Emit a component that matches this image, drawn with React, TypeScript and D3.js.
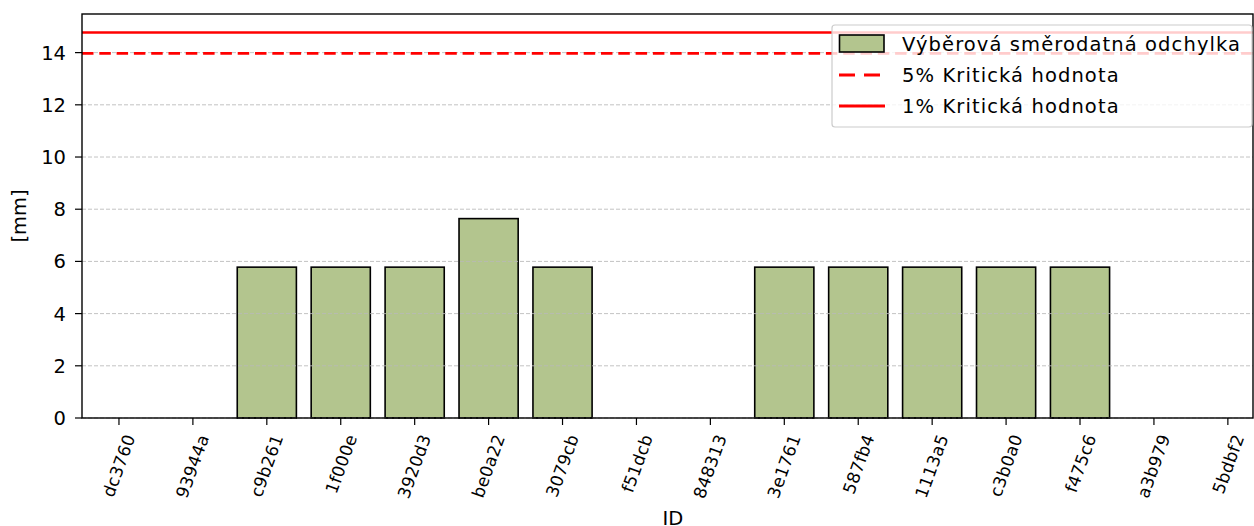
import React from "react";
import * as d3 from "d3";

const categories = ["dc3760","93944a","c9b261","1f000e","3920d3","be0a22","3079cb","f51dcb","848313","3e1761","587fb4","1113a5","c3b0a0","f475c6","a3b979","5bdbf2"];
const stdValues = [0,0,5.78,5.78,5.78,7.64,5.78,0,0,5.78,5.78,5.78,5.78,5.78,0,0];
const crit5 = 13.97;
const crit1 = 14.77;
const yTicks = [0,2,4,6,8,10,12,14];
const legendLabels = ["Výběrová směrodatná odchylka","5% Kritická hodnota","1% Kritická hodnota"];

const W = 1254, H = 526;
const L = 82, R = 1253, T = 14, B = 418;
const font = "DejaVu Sans, sans-serif";

export default function App() {
  const x = d3.scaleLinear().domain([-0.5, 15.34]).range([L, R]);
  const y = d3.scaleLinear().domain([0, 15.48]).range([B, T]);
  const bw = x(0.8) - x(0);
  return (
    <svg width={W} height={H} style={{ position: "absolute", left: 0, top: 0, background: "#fff" }} fontFamily={font}>
      <rect x={0} y={0} width={W} height={H} fill="#fff" />
      {stdValues.map((v, i) => (
        <rect key={i} x={x(i) - bw / 2} y={y(v)} width={bw} height={B - y(v)} fill="#b3c58e" stroke="#000" strokeWidth={1.6} />
      ))}
      {yTicks.map((t) => (
        <line key={"g" + t} x1={L} x2={R} y1={y(t)} y2={y(t)} stroke="#b8b8b8" strokeOpacity={0.85} strokeWidth={1} strokeDasharray="4,2" />
      ))}
      <line x1={L} x2={R} y1={y(crit5)} y2={y(crit5)} stroke="#ff0000" strokeWidth={2.6} strokeDasharray="11.5,5.8" />
      <line x1={L} x2={R} y1={y(crit1)} y2={y(crit1)} stroke="#ff0000" strokeWidth={2.6} />
      <rect x={L} y={T} width={R - L} height={B - T} fill="none" stroke="#000" strokeWidth={1.4} />
      {yTicks.map((t) => (
        <g key={"y" + t}>
          <line x1={L - 7} x2={L} y1={y(t)} y2={y(t)} stroke="#000" strokeWidth={1.2} />
          <text x={L - 16} y={y(t)} dy="0.36em" textAnchor="end" fontSize={19.5}>{t}</text>
        </g>
      ))}
      {categories.map((c, i) => (
        <g key={c}>
          <line x1={x(i)} x2={x(i)} y1={B} y2={B + 7} stroke="#000" strokeWidth={1.2} />
          <text transform={`translate(${x(i) + 11},${B + 17}) rotate(-70)`} textAnchor="end" dominantBaseline="central" fontSize={17} letterSpacing={0.3}>{c}</text>
        </g>
      ))}
      <text transform={`translate(19,${(T + B) / 2}) rotate(-90)`} textAnchor="middle" dominantBaseline="central" fontSize={19.5}>[mm]</text>
      <text x={673} y={525} textAnchor="middle" fontSize={19.5}>ID</text>
      <g>
        <rect x={832} y={25} width={420} height={102} rx={3} fill="#fff" fillOpacity={0.8} stroke="#cccccc" strokeWidth={1.2} />
        <rect x={839.5} y={35} width={44.5} height={17} fill="#b3c58e" stroke="#000" strokeWidth={1.6} />
        <line x1={839} x2={885} y1={75} y2={75} stroke="#ff0000" strokeWidth={2.8} strokeDasharray="16,9" />
        <line x1={839} x2={885} y1={106} y2={106} stroke="#ff0000" strokeWidth={2.8} />
        {legendLabels.map((l, i) => (
          <text key={l} x={902} y={43.5 + i * 31} dy="0.36em" fontSize={19.5} letterSpacing={1.1}>{l}</text>
        ))}
      </g>
    </svg>
  );
}
